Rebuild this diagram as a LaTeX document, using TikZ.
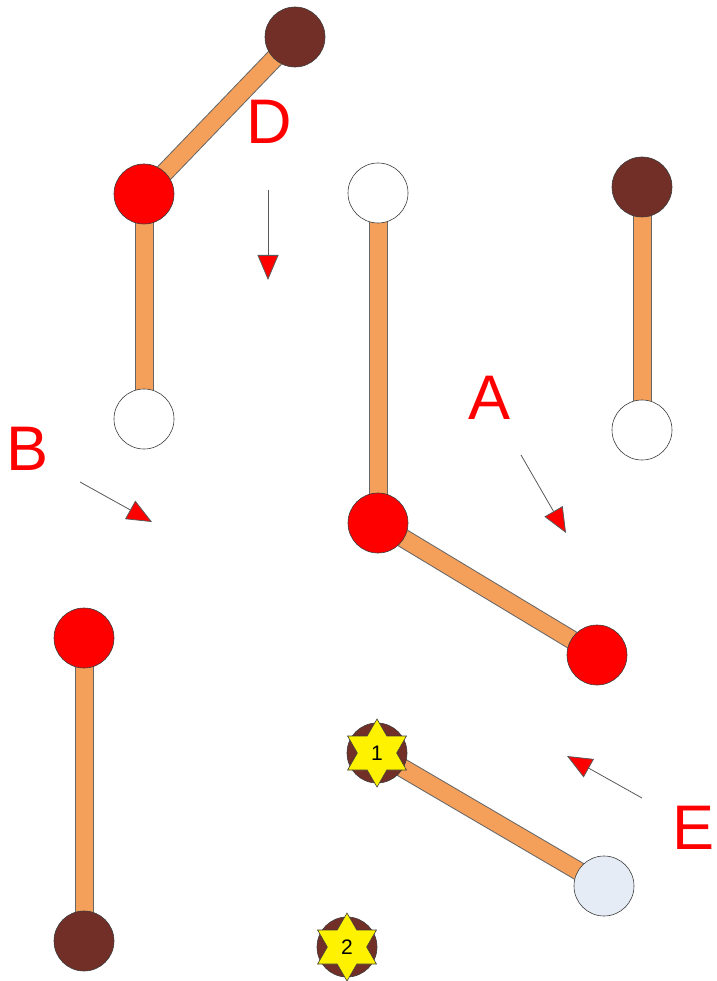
\documentclass[tikz,border=0pt]{standalone}
\usepackage{fontspec}
\setmainfont{Liberation Sans}
\usetikzlibrary{arrows.meta,shapes.geometric}
\definecolor{atombrown}{RGB}{114,47,39}
\definecolor{bondorange}{RGB}{245,160,90}
\definecolor{atomblue}{RGB}{230,236,246}
\definecolor{edgegray}{RGB}{60,60,60}
\tikzset{
  x=1pt, y=-1pt,
  atom/.style={circle, draw=edgegray, line width=0.6pt, minimum size=60pt, inner sep=0pt},
  redatom/.style={atom, fill=red},
  brownatom/.style={atom, fill=atombrown},
  whiteatom/.style={atom, fill=white},
  blueatom/.style={atom, fill=atomblue},
  starmark/.style={star, star points=6, star point ratio=1.732, draw=edgegray, line width=0.6pt, fill=yellow, minimum size=68pt, inner sep=0pt, font=\fontsize{21}{21}\selectfont},
  bondouter/.style={line width=19pt, draw=gray!80!black},
  bondinner/.style={line width=17pt, draw=bondorange},
  pointer/.style={draw=gray!70!black, line width=0.8pt, -{Triangle[length=25pt, width=21pt, fill=red]}},
  biglabel/.style={text=red, font=\fontsize{63}{63}\selectfont, inner sep=0pt}
}
\begin{document}
\begin{tikzpicture}
\useasboundingbox (0,0) rectangle (716,981);
% coordinates of atoms
\coordinate (p1) at (295,37);
\coordinate (p2) at (144,194);
\coordinate (p3) at (144,419);
\coordinate (q1) at (378,193);
\coordinate (q2) at (378,523);
\coordinate (q3) at (597,655);
\coordinate (r1) at (642,187);
\coordinate (r2) at (642,430);
\coordinate (s1) at (84,638);
\coordinate (s2) at (84,941);
\coordinate (t1) at (377,753);
\coordinate (t2) at (604,886);
\coordinate (u1) at (347,947);
% bonds
\foreach \a/\b in {p1/p2,p2/p3,q1/q2,q2/q3,r1/r2,s1/s2,t1/t2}{
  \draw[bondouter] (\a) -- (\b);
  \draw[bondinner] (\a) -- (\b);
}
% atoms
\node[brownatom] (A1) at (p1) {};
\node[redatom] (A2) at (p2) {};
\node[whiteatom] (A3) at (p3) {};
\node[whiteatom] (B1) at (q1) {};
\node[redatom] (B2) at (q2) {};
\node[redatom] (B3) at (q3) {};
\node[brownatom] (C1) at (r1) {};
\node[whiteatom] (C2) at (r2) {};
\node[redatom] (D1) at (s1) {};
\node[brownatom] (D2) at (s2) {};
\node[brownatom] (E1) at (t1) {};
\node[starmark] (E1s) at (t1) {1};
\node[blueatom] (E2) at (t2) {};
\node[brownatom] (F1) at (u1) {};
\node[starmark] (F1s) at (u1) {2};
% labels
\node[biglabel] (LD) at (269,122) {D};
\node[biglabel] (LA) at (490,398) {A};
\node[biglabel] (LB) at (28,449) {B};
\node[biglabel] (LE) at (693,828) {E};
% pointers
\coordinate (d0) at (268,190); \coordinate (d1) at (268,280);
\coordinate (b0) at (80,482);  \coordinate (b1) at (152,522);
\coordinate (a0) at (521,455); \coordinate (a1) at (566,533);
\coordinate (e0) at (642,798); \coordinate (e1) at (567,756);
\draw[pointer] (d0) -- (d1);
\draw[pointer] (b0) -- (b1);
\draw[pointer] (a0) -- (a1);
\draw[pointer] (e0) -- (e1);
\end{tikzpicture}
\end{document}
